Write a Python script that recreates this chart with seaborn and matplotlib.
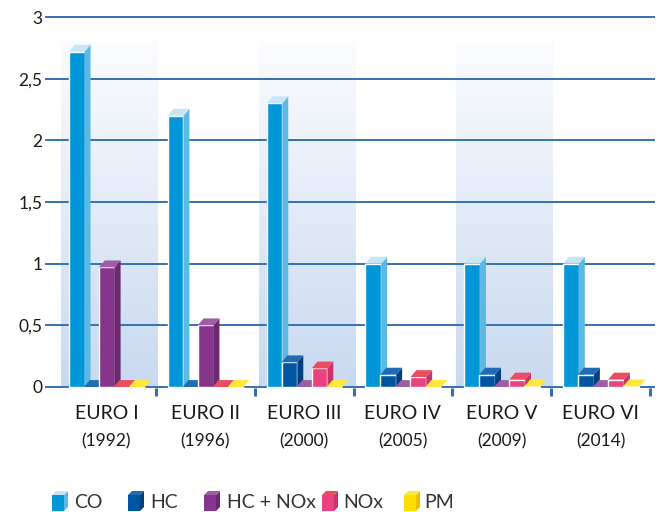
import numpy as np
import pandas as pd
import matplotlib
matplotlib.use("Agg")
import matplotlib.pyplot as plt
import seaborn as sns
from matplotlib.patches import Polygon
from matplotlib.colors import LinearSegmentedColormap

# ---------------- data ----------------
standards = ["EURO I", "EURO II", "EURO III", "EURO IV", "EURO V", "EURO VI"]
years = ["(1992)", "(1996)", "(2000)", "(2005)", "(2009)", "(2014)"]
series = ["CO", "HC", "HC + NOx", "NOx", "PM"]
co = [2.72, 2.20, 2.30, 1.00, 1.00, 1.00]
hc = [0.0, 0.0, 0.20, 0.10, 0.10, 0.10]
hc_nox = [0.97, 0.50, 0.0, 0.0, 0.0, 0.0]
nox = [0.0, 0.0, 0.15, 0.08, 0.06, 0.06]
pm = [0.0, 0.0, 0.0, 0.0, 0.005, 0.005]
yticks = [0, 0.5, 1, 1.5, 2, 2.5, 3]
ytick_labels = ["0", "0,5", "1", "1,5", "2", "2,5", "3"]

front = ["#0096d8", "#0055a2", "#85368a", "#e8437f", "#ffdd00"]
side = ["#5cb9e3", "#003f80", "#6b2a70", "#c83468", "#e6c200"]
top = ["#c6e6f8", "#1e6cb3", "#9d5ea3", "#ea4d62", "#ffe83a"]
grid_c = "#3371b4"

df = pd.DataFrame({
    "standard": np.repeat(standards, len(series)),
    "series": series * len(standards),
    "value": np.ravel(np.column_stack([co, hc, hc_nox, nox, pm])),
})

sns.set_style("white")
plt.rcParams["font.family"] = ["Lato", "DejaVu Sans"]

W, H = 658, 512
fig = plt.figure(figsize=(W / 100, H / 100), dpi=100)
ax = fig.add_axes([52 / W, 1 - 388.2 / H, 603 / W, 372.4 / H])

sns.barplot(data=df, x="standard", y="value", hue="series", order=standards,
            hue_order=series, palette=front, width=0.76, saturation=1,
            legend=False, ax=ax, zorder=3)

# gradient background panels
cmap = LinearSegmentedColormap.from_list("bg", ["#c8d9f0", "#fbfcff"])
grad = np.linspace(0, 1, 256).reshape(-1, 1)
for g in (0, 2, 4):
    ax.imshow(grad, cmap=cmap, aspect="auto", origin="lower",
              extent=[g - 0.46, g + 0.52, 0, 2.80], zorder=0.5)
ax.set_xlim(-0.55, 5.55)
ax.set_ylim(-0.01, 3.01)

# 3D faces
dx, dy = 0.06, 0.056
for i, cont in enumerate(ax.containers):
    for p in cont.patches:
        x0 = p.get_x()
        w = 0.16
        p.set_width(w)
        h = p.get_height()
        z = 3 + i * 0.1
        p.set_zorder(z)
        ax.add_patch(Polygon([(x0 + w, 0), (x0 + w + dx, dy), (x0 + w + dx, h + dy), (x0 + w, h)],
                             closed=True, facecolor=side[i], edgecolor="none", zorder=z))
        ax.add_patch(Polygon([(x0, h), (x0 + dx, h + dy), (x0 + w + dx, h + dy), (x0 + w, h)],
                             closed=True, facecolor=top[i], edgecolor="none", zorder=z))

# grid
for yv in yticks:
    ax.axhline(yv, color=grid_c, lw=1.4, zorder=1)
for s in ax.spines.values():
    s.set_visible(False)

ax.set_yticks(yticks)
ax.set_yticklabels(ytick_labels)
ax.tick_params(axis="y", length=5, width=1.4, color=grid_c, labelsize=12.5,
               labelcolor="#1a1a1a", pad=2, left=True)
ax.set_xticks(np.arange(len(standards)), [""] * len(standards))
ax.set_xticks([g + 0.5 for g in range(len(standards))], minor=True)
ax.tick_params(axis="x", which="major", length=0)
ax.tick_params(axis="x", which="minor", length=6, width=2.2, color=grid_c, direction="out", bottom=True)
ax.set_xlabel("")
ax.set_ylabel("")

for i, (s, yr) in enumerate(zip(standards, years)):
    ax.annotate(s, xy=(i, 0), xycoords=("data", "axes fraction"), xytext=(0, -25),
                textcoords="offset pixels", ha="center", va="center", fontsize=14, color="#1a1a1a")
    ax.annotate(yr, xy=(i, 0), xycoords=("data", "axes fraction"), xytext=(0, -53),
                textcoords="offset pixels", ha="center", va="center", fontsize=12.5, color="#1a1a1a")

# legend with cube icons (figure pixel coordinates)
def fp(x, y):
    return (x / W, 1 - y / H)

leg_icon_x = [52, 128, 204, 322, 404]
leg_text_x = [74, 150, 227, 343, 424]
for i, name in enumerate(series):
    a = leg_icon_x[i]
    b0, b1 = 511, 495
    fw, d = 12, 4
    fig.add_artist(Polygon([fp(a, b0), fp(a + fw, b0), fp(a + fw, b1), fp(a, b1)],
                           closed=True, transform=fig.transFigure, facecolor=front[i], edgecolor="none"))
    fig.add_artist(Polygon([fp(a + fw, b0), fp(a + fw + d, b0 - d), fp(a + fw + d, b1 - d), fp(a + fw, b1)],
                           closed=True, transform=fig.transFigure, facecolor=side[i], edgecolor="none"))
    fig.add_artist(Polygon([fp(a, b1), fp(a + d, b1 - d), fp(a + fw + d, b1 - d), fp(a + fw, b1)],
                           closed=True, transform=fig.transFigure, facecolor=top[i], edgecolor="none"))
    fig.text(*fp(leg_text_x[i], 502), name, ha="left", va="center", fontsize=14, color="#333333")

fig.savefig("out.png", dpi=100, facecolor="white")
